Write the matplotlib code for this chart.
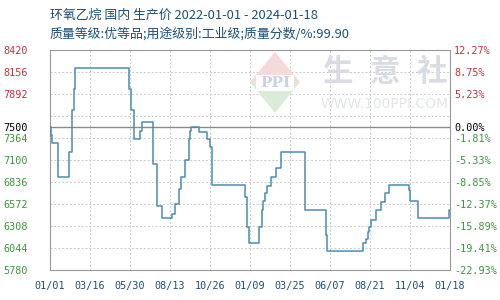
import numpy as np
import pandas as pd
import matplotlib
matplotlib.use('Agg')
import matplotlib.pyplot as plt
from matplotlib.patches import Polygon

# price change points (the series holds each value until the next date)
dates = ['2022-01-01', '2022-01-03', '2022-01-05', '2022-01-16', '2022-02-06',
         '2022-02-12', '2022-02-15', '2022-02-17', '2022-05-28', '2022-06-01',
         '2022-06-07', '2022-06-19', '2022-06-21', '2022-07-13', '2022-07-20',
         '2022-07-30', '2022-08-17', '2022-08-23', '2022-08-30', '2022-09-03',
         '2022-09-10', '2022-09-18', '2022-09-20', '2022-09-22', '2022-10-06',
         '2022-10-21', '2022-10-26', '2022-10-30', '2023-01-01', '2023-01-04',
         '2023-01-08', '2023-01-27', '2023-01-31', '2023-02-03', '2023-02-06',
         '2023-02-11', '2023-02-17', '2023-02-27', '2023-03-08', '2023-04-22',
         '2023-05-31', '2023-06-02', '2023-08-08', '2023-08-14', '2023-08-17',
         '2023-08-20', '2023-08-23', '2023-09-01', '2023-09-11', '2023-09-19',
         '2023-09-26', '2023-11-02', '2023-11-04', '2023-11-20', '2024-01-16',
         '2024-01-18']
prices = [7500, 7400, 7300, 6900, 7200,
          7700, 7950, 8200, 7950, 7700,
          7350, 7450, 7550, 7050, 6550,
          6400, 6450, 6570, 6750, 6900,
          7100, 7350, 7450, 7500, 7430,
          7350, 7250, 6800, 6650, 6300,
          6100, 6300, 6500, 6610, 6700,
          6790, 6900, 7000, 7200, 6500,
          6200, 6010, 6100, 6150, 6230,
          6300, 6380, 6500, 6600, 6700,
          6800, 6740, 6610, 6400, 6500,
          6500]

base_price = 7500
y_ticks = [8420, 8156, 7892, 7628, 7364, 7100, 6836, 6572, 6308, 6044, 5780]
x_labels = ['01/01', '03/16', '05/30', '08/13', '10/26', '01/09',
            '03/25', '06/07', '08/21', '11/04', '01/18']
title1 = '环氧乙烷 国内 生产价 2022-01-01 - 2024-01-18'
title2 = '质量等级:优等品;用途级别:工业级;质量分数/%:99.90'

RED = '#c0343c'
GREEN = '#3a973a'
BLUE = '#1d4f78'
LINE = '#4a8db3'

plt.rcParams['font.family'] = ['Noto Sans CJK SC', 'DejaVu Sans']

df = pd.DataFrame({'date': pd.to_datetime(dates), 'price': prices})
start, end = df['date'].iloc[0], df['date'].iloc[-1]

fig = plt.figure(figsize=(5, 3), dpi=100)
ax = fig.add_axes([0.1, 0.1, 0.8, 0.734])

# watermark behind the data
def px(x, y):
    return (x / 500, 1 - y / 300)

fig.patches.append(Polygon([px(250, 82), px(275, 52), px(300, 82)], closed=True,
                           transform=fig.transFigure, fc='#f6dada', ec='none', zorder=0))
fig.patches.append(Polygon([px(250, 82), px(275, 113), px(300, 82)], closed=True,
                           transform=fig.transFigure, fc='#d8ecd8', ec='none', zorder=0))
fig.patches.append(Polygon([px(256, 75), px(294, 75), px(294, 91), px(256, 91)], closed=True,
                           transform=fig.transFigure, fc='white', ec='none', zorder=0))
fig.text(*px(275, 83), 'PPI', color='#c9d2e4', fontsize=11, fontweight='bold',
         family='DejaVu Serif', ha='center', va='center', zorder=0)
for cx, ch in zip([337, 385, 432], '生意社'):
    fig.text(*px(cx, 72), ch, color='#d9dce3', fontsize=22, fontweight='bold',
             ha='center', va='center', zorder=0)
fig.text(*px(385, 104), 'WWW.100PPI.COM', color='#e2e5ea', fontsize=10,
         family='DejaVu Sans', ha='center', va='center', zorder=0)
ax.patch.set_alpha(0)

ax.plot(df['date'], df['price'], drawstyle='steps-post', color=LINE, lw=1.1, zorder=3)
ax.axhline(base_price, color='#8a8a8a', lw=1, zorder=2)

ax.set_xlim(start, end)
ax.set_ylim(y_ticks[-1], y_ticks[0])
x_ticks = pd.date_range(start, end, periods=len(x_labels))
ax.set_xticks(x_ticks)
ax.set_xticklabels(x_labels)
ax.set_yticks(y_ticks)
ax.grid(True, color='#c8c8c8', ls=(0, (2, 2)), lw=0.7)
for s in ax.spines.values():
    s.set_color('#999999')

mono = 'DejaVu Sans Mono'
left_ticks = [t if t != 7628 else base_price for t in y_ticks]
ax.set_yticklabels([])
ax.tick_params(length=0)
ax.tick_params(axis='x', pad=8, labelsize=7.3, labelcolor=BLUE)
for lab in ax.get_xticklabels():
    lab.set_family(mono)

# left labels (7500 shown at the base line instead of 7628) and right % labels
ax2 = ax.twinx()
ax2.set_ylim(ax.get_ylim())
ax3 = ax.twinx()
ax3.set_ylim(ax.get_ylim())
for a in (ax2, ax3):
    a.patch.set_alpha(0)
    for s in a.spines.values():
        s.set_visible(False)

ax3.yaxis.tick_left()
ax3.set_yticks(left_ticks)
ax3.set_yticklabels([str(t) for t in left_ticks])
ax3.tick_params(length=0, pad=16, labelsize=7.3)
ax2.set_yticks(left_ticks)
ax2.set_yticklabels(['%.2f%%' % ((t / base_price - 1) * 100) for t in left_ticks])
ax2.tick_params(length=0, pad=3, labelsize=7.3)

def colour(t):
    if t > base_price:
        return RED
    if t < base_price:
        return GREEN
    return 'black'

for a in (ax2, ax3):
    for t, lab in zip(left_ticks, a.get_yticklabels()):
        lab.set_color(colour(t))
        lab.set_family(mono)

fig.text(0.1, 1 - 15 / 300, title1, color=BLUE, fontsize=9.3, va='center')
fig.text(0.1, 1 - 34 / 300, title2, color=BLUE, fontsize=9.3, va='center')

fig.savefig('out.png', dpi=100)
